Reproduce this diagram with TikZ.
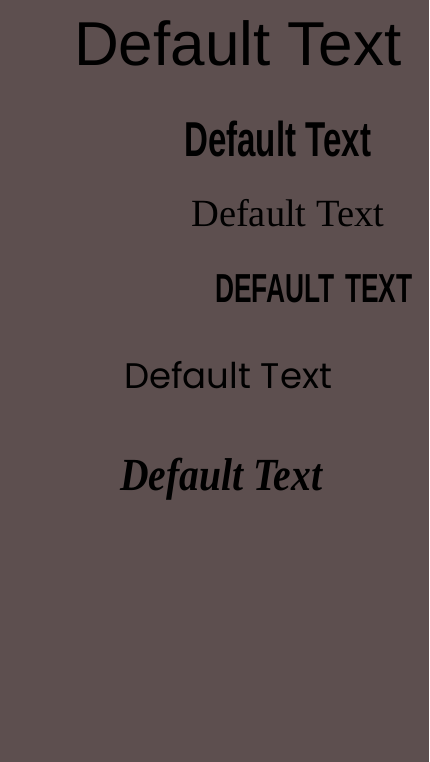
\documentclass[tikz,border=0pt]{standalone}
\usepackage{fontspec}
\setmainfont{Liberation Sans}
\newfontfamily\arialf{Liberation Sans}
\newfontfamily\timesf{Liberation Serif}
\newfontfamily\geof{Poppins}
\definecolor{bgc}{HTML}{5D4F4F}
\tikzset{lbl/.style={anchor=base west, inner sep=0pt, text=black}}
\begin{document}
\begin{tikzpicture}[x=1pt,y=-1pt]
\fill[bgc] (0,0) rectangle (429,762);
\useasboundingbox (0,0) rectangle (429,762);
\node[lbl] (t1) at (74,66) {\arialf\fontsize{62}{62}\selectfont Default Text};
\node[lbl] (t2) at (184,157) {\scalebox{0.675}[1]{\arialf\bfseries\fontsize{49}{49}\selectfont Default Text}};
\node[lbl] (t3) at (191,226) {\timesf\fontsize{38.5}{38.5}\selectfont Default Text};
\node[lbl] (t4) at (215,302) {\scalebox{0.65}[1]{\arialf\bfseries\fontsize{40.5}{40.5}\selectfont DEFAULT\hspace{5pt} TEXT}};
\node[lbl] (t5) at (124,388) {\geof\fontsize{35.5}{35.5}\selectfont Default Text};
\node[lbl] (t6) at (120,490) {\scalebox{0.86}[1]{\timesf\bfseries\itshape\fontsize{46}{46}\selectfont Default Text}};
\end{tikzpicture}
\end{document}
